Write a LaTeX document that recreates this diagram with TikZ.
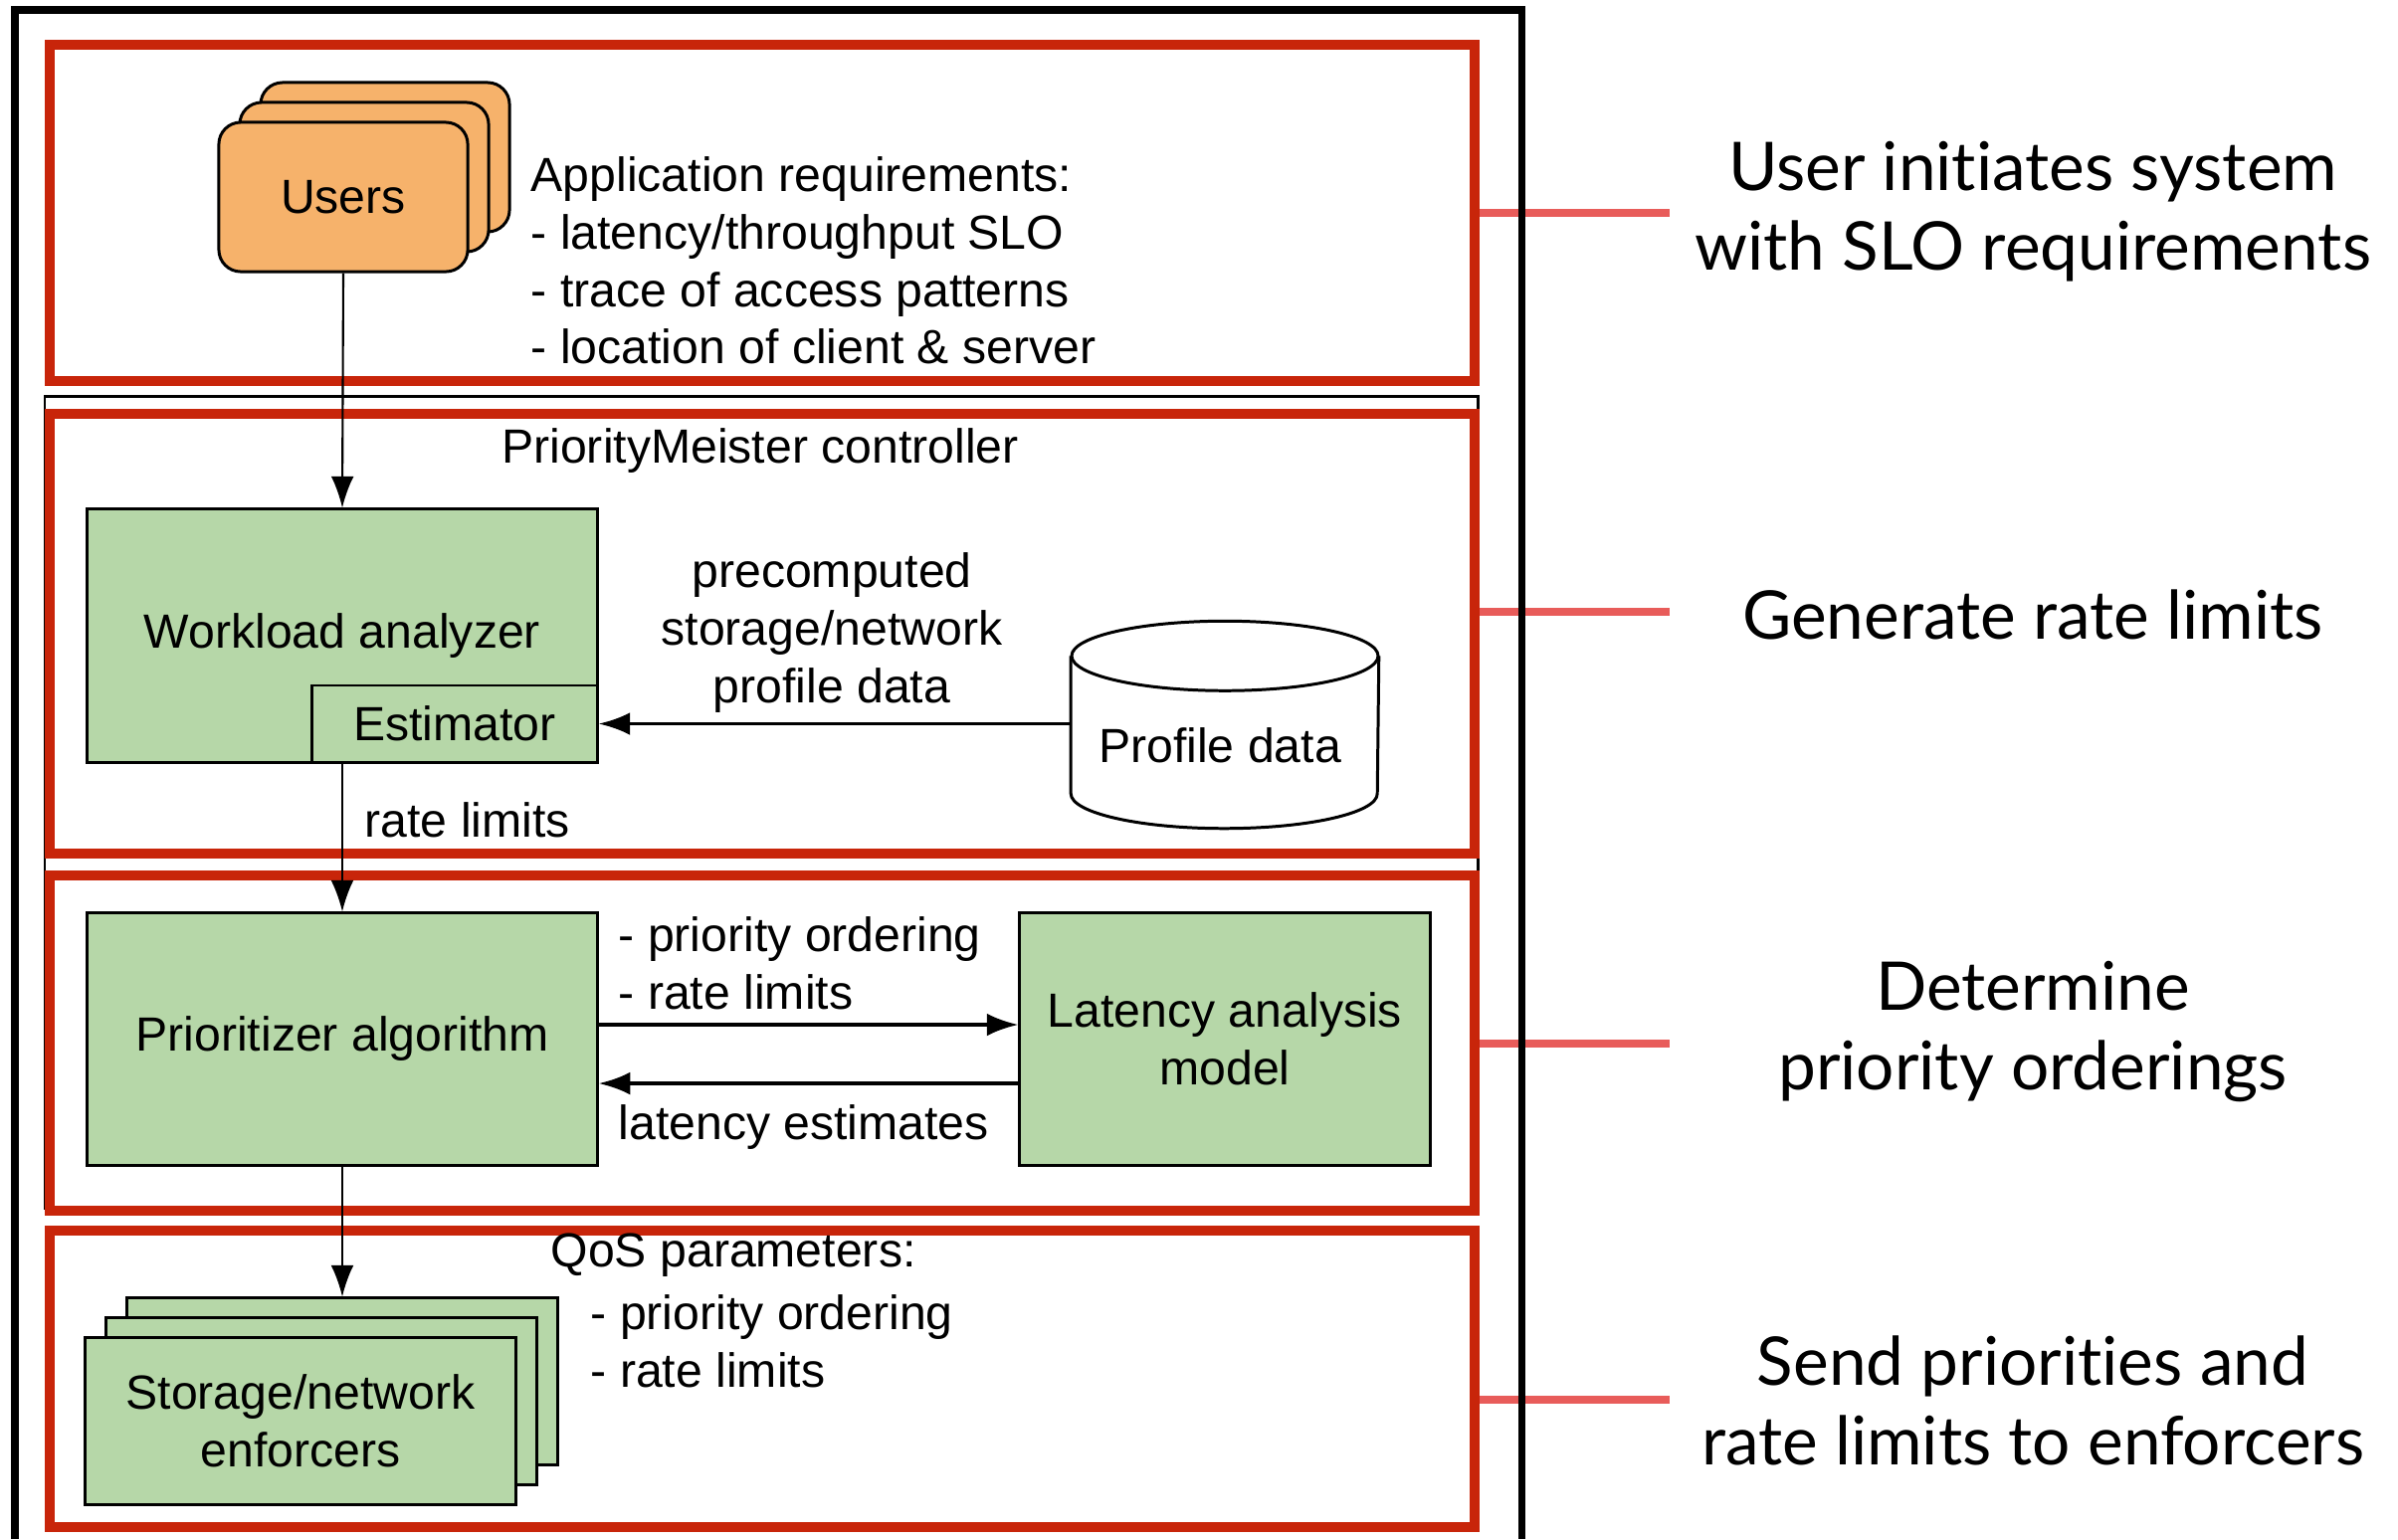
\documentclass[tikz,border=0pt]{standalone}
\usepackage{fontspec}
\setmainfont{Liberation Sans}
\newfontfamily\notefont[Ligatures=NoCommon]{Lato}
\usepackage{tikz}
\usetikzlibrary{arrows.meta,fit}

\definecolor{framered}{RGB}{200,37,10}
\definecolor{tickred}{RGB}{232,92,90}
\definecolor{userorange}{RGB}{246,178,107}
\definecolor{boxgreen}{RGB}{182,215,168}

\begin{document}
\begin{tikzpicture}[x=0.01cm, y=0.01cm,
    every node/.style={font=\fontsize{13.7}{16.4}\selectfont, inner sep=0pt},
    greenbox/.style={draw, line width=0.85pt, fill=boxgreen, align=center},
    userbox/.style={draw, line width=0.85pt, fill=userorange, rounded corners=0.22cm,
        minimum width=2.5cm, minimum height=1.5cm},
    stagebox/.style={draw=framered, line width=3.1pt},
    flow/.style={-{Latex[length=9pt,width=6.5pt]}, line width=0.6pt},
    bigflow/.style={-{Latex[length=9pt,width=6.5pt]}, line width=1.1pt},
    tick/.style={draw=tickred, line width=2.5pt},
    note/.style={font=\notefont\fontsize{19.2}{22.7}\selectfont, align=center}]

\fill[white] (0,0) rectangle (2410,-1547);
\useasboundingbox (0,0) rectangle (2410,-1547);

\node[draw, line width=0.85pt, fit={(45,-398) (1485,-1214)}] (ctrl) {};

\coordinate (tick1) at (1678,-214);
\coordinate (tick2) at (1678,-615);
\coordinate (tick3) at (1678,-1049);
\coordinate (tick4) at (1678,-1407);

\node[stagebox, fit={(50,-45) (1482,-383)}] (stage1) {};
\node[stagebox, fit={(50,-416) (1482,-858)}] (stage2) {};
\node[stagebox, fit={(50,-880) (1482,-1217)}] (stage3) {};
\node[stagebox, fit={(50,-1237) (1482,-1535)}] (stage4) {};

\draw[tick] (tick1 -| stage1.east) -- (tick1);
\draw[tick] (tick2 -| stage2.east) -- (tick2);
\draw[tick] (tick3 -| stage3.east) -- (tick3);
\draw[tick] (tick4 -| stage4.east) -- (tick4);

\draw[line width=2pt] (15,-1547) -- (15,-10) -- (1529,-10) -- (1529,-1547);

\node[userbox] (users3) at (387,-158) {};
\node[userbox] (users2) at (366,-178) {};
\node[userbox] (users) at (345,-198) {Users};
\node[anchor=west, align=left] (appreq) at (533,-262)
    {Application requirements:\\- latency/throughput SLO\\- trace of access patterns\\- location of client \& server};

\node (ctrltitle) at (764,-453) {PriorityMeister controller};
\node[greenbox, minimum width=5.12cm, minimum height=2.54cm] (workload) at (344,-639) {Workload analyzer};
\node[greenbox, minimum width=2.86cm, minimum height=0.77cm] (estimator) at (457,-727.5) {Estimator};
\node[minimum width=3.08cm, minimum height=1.37cm] (profile) at (1231,-728.5) {};
\draw[line width=0.85pt] (profile.north west) -- (profile.south west)
    arc[start angle=180, end angle=360, x radius=154, y radius=35] -- (profile.north east);
\draw[line width=0.85pt] (profile.north) ellipse[x radius=154, y radius=35];
\node (profiletext) at (1226,-749) {Profile data};
\node[align=center] (precomp) at (836,-636) {precomputed\\storage/network\\profile data};
\node[anchor=west] (ratelbl) at (366,-824) {rate limits};

\node[greenbox, minimum width=5.12cm, minimum height=2.53cm] (prio) at (344,-1044.5) {Prioritizer algorithm};
\node[greenbox, minimum width=4.12cm, minimum height=2.53cm] (latency) at (1231,-1044.5) {Latency analysis\\model};
\node[anchor=west, align=left] (prioout) at (621,-968) {- priority ordering\\- rate limits};
\node[anchor=west] (latin) at (621,-1133) {latency estimates};

\node[greenbox, minimum width=4.32cm, minimum height=1.67cm] (storage3) at (344,-1388.5) {};
\node[greenbox, minimum width=4.32cm, minimum height=1.67cm] (storage2) at (323,-1408.5) {};
\node[greenbox, minimum width=4.32cm, minimum height=1.67cm] (storage) at (302,-1428.5) {Storage/network\\enforcers};
\node[anchor=west] (qostitle) at (553,-1262) {QoS parameters:};
\node[anchor=west, align=left] (qoslist) at (593,-1348) {- priority ordering\\- rate limits};

\draw[flow] (users.south) -- (workload.north);
\draw[bigflow] (profile.west |- estimator.east) -- (estimator.east);
\draw[flow] (workload.south) -- (prio.north);
\draw[bigflow] ([yshift=0.145cm]prio.east) -- ([yshift=0.145cm]latency.west);
\draw[bigflow] ([yshift=-0.445cm]latency.west) -- ([yshift=-0.445cm]prio.east);
\draw[flow] (prio.south) -- (storage3.north);

\node[note] (note1) at (2043,-213) {User initiates system\\with SLO requirements};
\node[note] (note2) at (2043,-618) {Generate rate limits};
\node[note] (note3) at (2043,-1037) {Determine\\priority orderings};
\node[note] (note4) at (2043,-1408) {Send priorities and\\rate limits to enforcers};
\end{tikzpicture}
\end{document}
